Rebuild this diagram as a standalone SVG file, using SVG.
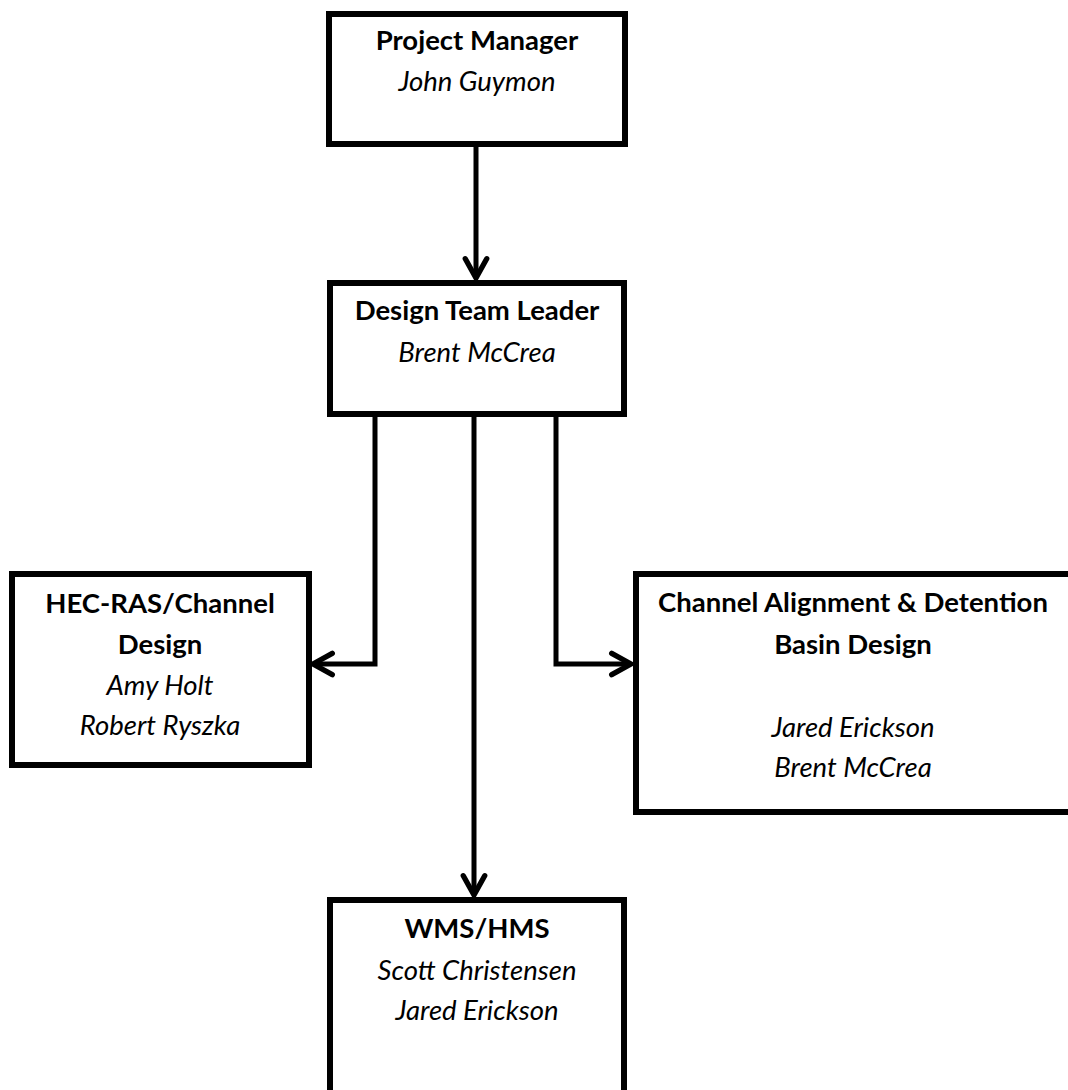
<svg xmlns="http://www.w3.org/2000/svg" width="1068" height="1090" viewBox="0 0 1068 1090">
<style>
.box{fill:#fff;stroke:#000;stroke-width:6}
.conn{fill:none;stroke:#000;stroke-width:5;stroke-linejoin:miter}
text{font-family:Lato,"Open Sans","Liberation Sans",sans-serif;font-size:27.5px;text-anchor:middle;fill:#000}
.t{font-weight:bold}
.n{font-style:italic}
</style>
<defs>
<marker id="arr" markerUnits="userSpaceOnUse" markerWidth="30" markerHeight="30" viewBox="-22 -14 26 28" refX="0" refY="0" orient="auto">
<path d="M-18,-10 L0,0 L-18,10" fill="none" stroke="#000" stroke-width="5" stroke-linecap="round" stroke-linejoin="miter"/>
</marker>
</defs>
<rect width="1068" height="1090" fill="#fff"/>
<g id="connectors">
<path class="conn" d="M476,147 V278" marker-end="url(#arr)"/>
<path class="conn" d="M375,417 V664 H313" marker-end="url(#arr)"/>
<path class="conn" d="M474,417 V895" marker-end="url(#arr)"/>
<path class="conn" d="M556,417 V664 H631" marker-end="url(#arr)"/>
</g>
<g id="pm">
<rect class="box" x="329" y="14" width="296" height="130"/>
<text class="t" x="477" y="50">Project Manager</text>
<text class="n" x="477" y="91">John Guymon</text>
</g>
<g id="dtl">
<rect class="box" x="330" y="283" width="294" height="131"/>
<text class="t" x="477" y="320">Design Team Leader</text>
<text class="n" x="477" y="362">Brent McCrea</text>
</g>
<g id="hec">
<rect class="box" x="12" y="574" width="297" height="191"/>
<text class="t" x="160" y="613">HEC-RAS/Channel</text>
<text class="t" x="160" y="654">Design</text>
<text class="n" x="160" y="695">Amy Holt</text>
<text class="n" x="160" y="735">Robert Ryszka</text>
</g>
<g id="cad">
<rect class="box" x="636" y="574" width="440" height="238"/>
<text class="t" x="853" y="612">Channel Alignment &amp; Detention</text>
<text class="t" x="853" y="654">Basin Design</text>
<text class="n" x="853" y="737">Jared Erickson</text>
<text class="n" x="853" y="777">Brent McCrea</text>
</g>
<g id="wms">
<rect class="box" x="330" y="900" width="294" height="200"/>
<text class="t" x="477" y="938">WMS/HMS</text>
<text class="n" x="477" y="980">Scott Christensen</text>
<text class="n" x="477" y="1020">Jared Erickson</text>
</g>
</svg>
